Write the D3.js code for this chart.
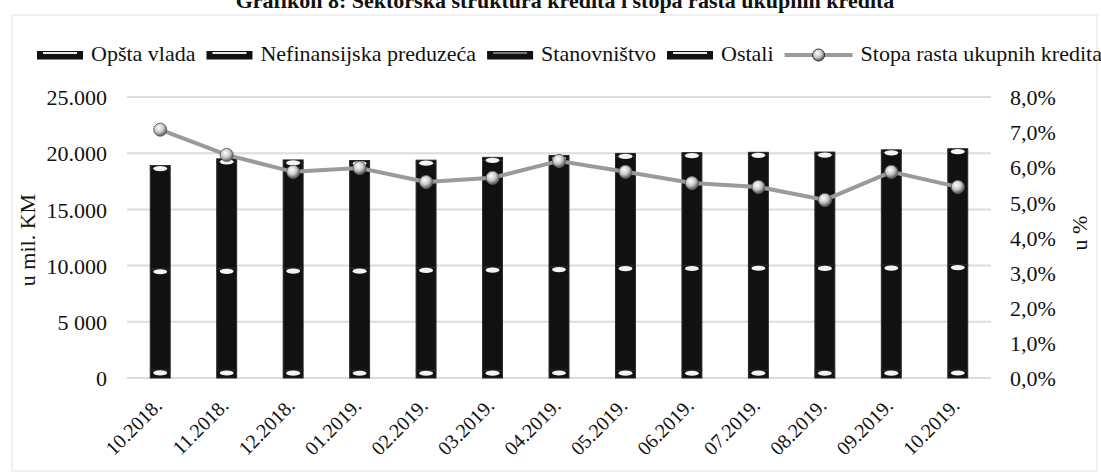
<!DOCTYPE html>
<html>
<head>
<meta charset="utf-8">
<script src="https://cdn.jsdelivr.net/npm/d3@7/dist/d3.min.js"></script>
<style>
  body { margin: 0; background: #fff; }
  svg text { font-family: "Liberation Serif", "Times New Roman", serif; fill: #111; }
</style>
</head>
<body>
<svg id="chart" width="1101" height="474"></svg>
<script>
// DATA (u mil. KM and u %)
var categories = ["10.2018.", "11.2018.", "12.2018.", "01.2019.", "02.2019.", "03.2019.", "04.2019.",
                  "05.2019.", "06.2019.", "07.2019.", "08.2019.", "09.2019.", "10.2019."];
var opstaVlada = [720, 710, 700, 690, 690, 700, 710, 700, 690, 700, 690, 700, 710];
var nefinansijska = [9000, 9050, 9080, 9080, 9150, 9170, 9200, 9300, 9320, 9330, 9330, 9350, 9380];
var stanovnistvo = [8930, 9490, 9370, 9330, 9290, 9510, 9640, 9730, 9790, 9800, 9830, 10000, 10060];
var ostali = [250, 250, 250, 250, 250, 250, 250, 250, 250, 250, 250, 250, 250];
var stopaRasta = [7.07, 6.35, 5.87, 5.98, 5.58, 5.70, 6.18, 5.87, 5.55, 5.44, 5.07, 5.87, 5.44];

var leftTickValues = [0, 5000, 10000, 15000, 20000, 25000];
var leftTickLabels = ["0", "5 000", "10.000", "15.000", "20.000", "25.000"];
var rightTickValues = [0, 1, 2, 3, 4, 5, 6, 7, 8];
var rightTickLabels = ["0,0%", "1,0%", "2,0%", "3,0%", "4,0%", "5,0%", "6,0%", "7,0%", "8,0%"];

var seriesNames = ["Opšta vlada", "Nefinansijska preduzeća", "Stanovništvo", "Ostali"];
var lineName = "Stopa rasta ukupnih kredita";

// table for the stack
var rows = categories.map(function(c, i){
    return { cat: c, "Opšta vlada": opstaVlada[i], "Nefinansijska preduzeća": nefinansijska[i],
             "Stanovništvo": stanovnistvo[i], "Ostali": ostali[i] };
});

var svg = d3.select("#chart");
// plot area (careful: "top" is taken by window.top)
var plotLeft = 127, plotRight = 991, plotTop = 97, plotBottom = 378;

var x = d3.scaleBand().domain(categories).range([plotLeft, plotRight]).paddingInner(0.7).paddingOuter(0.35);
var y = d3.scaleLinear().domain([0, 25000]).range([plotBottom, plotTop]);
var y2 = d3.scaleLinear().domain([0, 8]).range([plotBottom, plotTop]);

// faint frame of the scanned chart
svg.append("rect").attr("x", 12).attr("y", 15).attr("width", 1085).attr("height", 456)
    .attr("fill", "none").attr("stroke", "#ececec").attr("stroke-width", 1.5);

// title (cut at the top like in the scan)
svg.append("text").attr("x", 565).attr("y", 8).attr("text-anchor", "middle")
    .style("font-size", "22px").style("font-weight", "bold")
    .text("Grafikon 8: Sektorska struktura kredita i stopa rasta ukupnih kredita");

// gridlines
svg.append("g").selectAll("line").data(leftTickValues).enter().append("line")
    .attr("x1", plotLeft).attr("x2", plotRight)
    .attr("y1", function(d){ return y(d); }).attr("y2", function(d){ return y(d); })
    .attr("stroke", "#dcdcdc").attr("stroke-width", 2);

// axes
var leftAxis = d3.axisLeft(y).tickValues(leftTickValues).tickSize(0).tickPadding(0)
    .tickFormat(function(d, i){ return leftTickLabels[i]; });
var gl = svg.append("g").attr("transform", "translate(107,0)").call(leftAxis);
gl.select(".domain").remove();
gl.attr("font-family", null).attr("font-size", null);
gl.selectAll("text").style("font-size", "22px").attr("dy", "0.35em");

var rightAxis = d3.axisRight(y2).tickValues(rightTickValues).tickSize(0).tickPadding(0)
    .tickFormat(function(d, i){ return rightTickLabels[i]; });
var gr = svg.append("g").attr("transform", "translate(1010,0)").call(rightAxis);
gr.select(".domain").remove();
gr.attr("font-family", null).attr("font-size", null);
gr.selectAll("text").style("font-size", "22px").attr("dy", "0.35em");

// category labels
svg.append("g").selectAll("text").data(categories).enter().append("text")
    .attr("transform", function(d){ return "translate(" + (x(d) + x.bandwidth() / 2 + 3) + ",407) rotate(-45)"; })
    .attr("text-anchor", "end")
    .style("font-size", "20px")
    .text(function(d){ return d; });

// axis titles
svg.append("text").attr("transform", "translate(35,240) rotate(-90)").attr("text-anchor", "middle")
    .style("font-size", "22px").text("u mil. KM");
svg.append("text").attr("transform", "translate(1087,233) rotate(-90)").attr("text-anchor", "middle")
    .style("font-size", "22px").text("u %");

// stacked bars
var stack = d3.stack().keys(seriesNames);
var layers = stack(rows);
var bw = x.bandwidth();

var layerG = svg.append("g").selectAll("g").data(layers).enter().append("g");
layerG.selectAll("rect").data(function(d){ return d; }).enter().append("rect")
    .attr("x", function(d){ return x(d.data.cat); })
    .attr("y", function(d){ return y(d[1]); })
    .attr("width", bw)
    .attr("height", function(d){ return y(d[0]) - y(d[1]); })
    .attr("fill", "#111")
    .attr("stroke", "#2a2a2a").attr("stroke-width", 1);

// white glints at segment tops (scan look)
[0, 1, 3].forEach(function(k){
    svg.append("g").selectAll("ellipse").data(layers[k]).enter().append("ellipse")
        .attr("cx", function(d){ return x(d.data.cat) + bw / 2; })
        .attr("cy", function(d){ return y(d[1]) + 3; })
        .attr("rx", bw / 2 - 3)
        .attr("ry", 2.6)
        .attr("fill", "#f4f4f4");
});

// line
var defs = svg.append("defs");
var grad = defs.append("radialGradient").attr("id", "ball").attr("cx", "40%").attr("cy", "35%").attr("r", "65%");
grad.append("stop").attr("offset", "0%").attr("stop-color", "#ffffff");
grad.append("stop").attr("offset", "55%").attr("stop-color", "#c8c8c8");
grad.append("stop").attr("offset", "100%").attr("stop-color", "#555");

var line = d3.line()
    .x(function(d, i){ return x(categories[i]) + bw / 2; })
    .y(function(d){ return y2(d); });
svg.append("path").datum(stopaRasta).attr("d", line)
    .attr("fill", "none").attr("stroke", "#9a9a9a").attr("stroke-width", 4);
svg.append("g").selectAll("circle").data(stopaRasta).enter().append("circle")
    .attr("cx", function(d, i){ return x(categories[i]) + bw / 2; })
    .attr("cy", function(d){ return y2(d); })
    .attr("r", 6.5)
    .attr("fill", "url(#ball)").attr("stroke", "#666").attr("stroke-width", 1);

// legend
var lx = 37;
var legendItems = seriesNames.concat([lineName]);
legendItems.forEach(function(name, i){
    var g = svg.append("g");
    if (i < 4) {
        g.append("rect").attr("x", lx).attr("y", 51).attr("width", 46).attr("height", 8.5).attr("fill", "#111");
        g.append("rect").attr("x", lx + 6).attr("y", 52).attr("width", 34).attr("height", 2)
            .attr("fill", i === 2 ? "#777" : "#e8e8e8");
    } else {
        g.append("line").attr("x1", lx).attr("x2", lx + 68).attr("y1", 55).attr("y2", 55)
            .attr("stroke", "#9a9a9a").attr("stroke-width", 4);
        g.append("circle").attr("cx", lx + 34).attr("cy", 55).attr("r", 6)
            .attr("fill", "url(#ball)").attr("stroke", "#333").attr("stroke-width", 1);
    }
    var sw = i < 4 ? 46 : 68;
    var t = g.append("text").attr("x", lx + sw + 8).attr("y", 61).style("font-size", "22px").text(name);
    lx = lx + sw + 8 + t.node().getComputedTextLength() + 11;
});
</script>
</body>
</html>
